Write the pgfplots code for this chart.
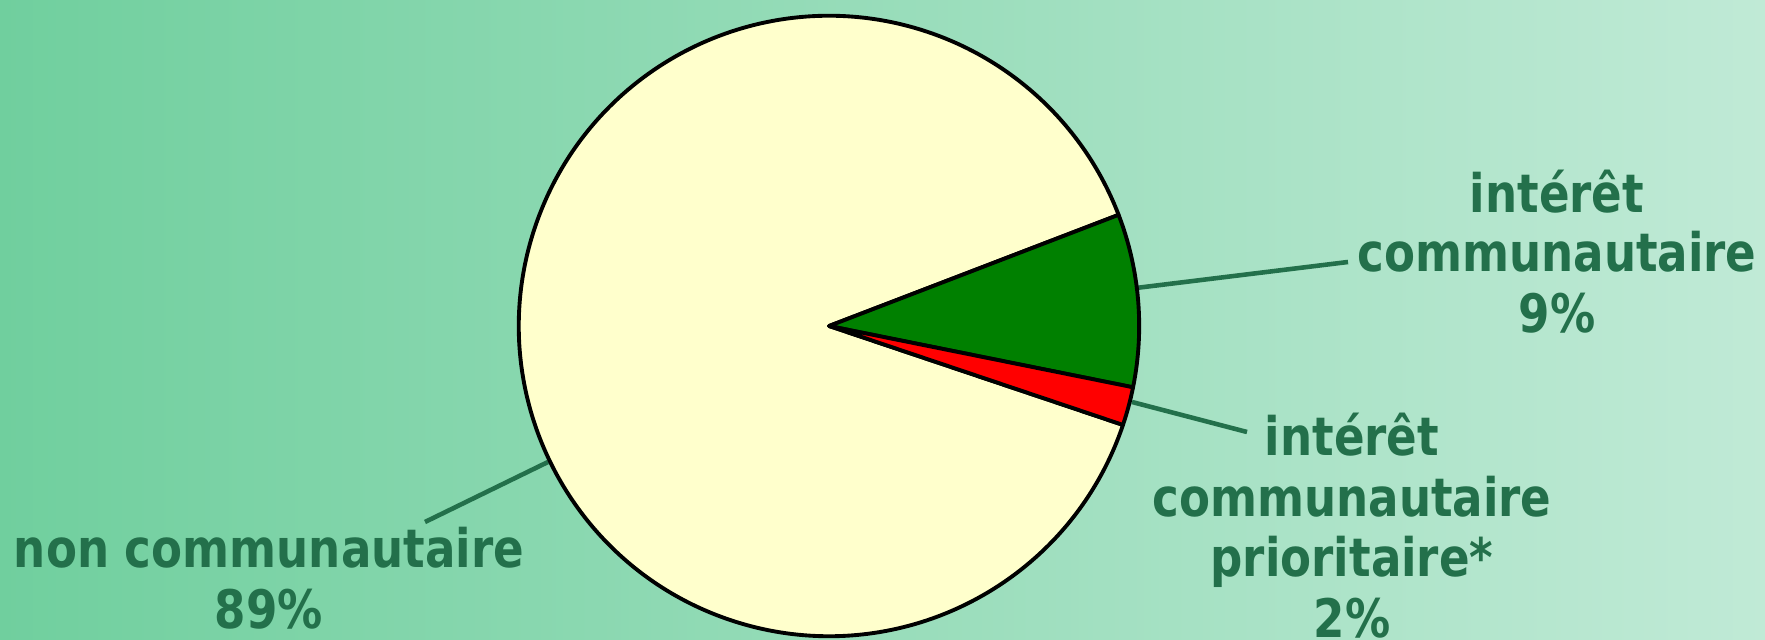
\documentclass[border=0pt]{standalone}
\usepackage{fontspec}
\setmainfont{DejaVu Sans}[BoldFeatures={FakeStretch=0.85}]
\usepackage{pgfplots}
\usepackage{pgfplotstable}
\pgfplotsset{compat=1.18}
\definecolor{bgL}{RGB}{112,207,158}
\definecolor{bgR}{RGB}{192,234,214}
\definecolor{txt}{RGB}{35,112,75}
\definecolor{pieyellow}{RGB}{255,255,204}
\definecolor{piegreen}{RGB}{0,128,0}
\definecolor{piered}{RGB}{255,0,0}
\pgfplotstableread{
label value
interet 9
prioritaire 2
non 89
}\piedata
\begin{document}
\begin{tikzpicture}
\pgfplotstablegetelem{0}{value}\of\piedata \let\va\pgfplotsretval
\pgfplotstablegetelem{1}{value}\of\piedata \let\vb\pgfplotsretval
\pgfplotstablegetelem{2}{value}\of\piedata \let\vc\pgfplotsretval
\pgfmathsetmacro\aA{21}
\pgfmathsetmacro\aB{\aA-3.6*\va}
\pgfmathsetmacro\aC{\aB-3.6*\vb}
\pgfmathsetmacro\aD{\aC-3.6*\vc}
\begin{axis}[
  x=0.01cm, y=0.01cm,
  xmin=0, xmax=1765, ymin=0, ymax=640,
  hide axis, clip=false,
  anchor=origin, at={(0,0)},
]
\coordinate (bl) at (axis cs:0,0);
\coordinate (tr) at (axis cs:1765,640);
\fill[left color=bgL, right color=bgR] (axis cs:0,0) rectangle (axis cs:1765,640);
% leader lines
\draw[txt, line width=1.3pt] (axis cs:1136,352) -- (axis cs:1348,378);
\draw[txt, line width=1.3pt] (axis cs:1132,238) -- (axis cs:1247,208);
\draw[txt, line width=1.3pt] (axis cs:548,178) -- (axis cs:425,118);
% pie slices
\filldraw[fill=pieyellow, draw=black, line width=1.1pt, line join=round]
  (axis cs:829,314) -- ++(\aC:3.1cm) arc[start angle=\aC, end angle=\aD, radius=3.1cm] -- cycle;
\filldraw[fill=piegreen, draw=black, line width=1.1pt, line join=round]
  (axis cs:829,314) -- ++(\aA:3.1cm) arc[start angle=\aA, end angle=\aB, radius=3.1cm] -- cycle;
\filldraw[fill=piered, draw=black, line width=1.1pt, line join=round]
  (axis cs:829,314) -- ++(\aB:3.1cm) arc[start angle=\aB, end angle=\aC, radius=3.1cm] -- cycle;
% labels
\tikzset{lab/.style={anchor=base, inner sep=0pt, text=txt, font=\fontsize{15.1pt}{17pt}\selectfont\bfseries}}
\node[lab] at (axis cs:1557,427) {intérêt};
\node[lab] at (axis cs:1557,368) {communautaire};
\node[lab] at (axis cs:1557,307) {9\%};
\node[lab] at (axis cs:1352,184) {intérêt};
\node[lab] at (axis cs:1352,123) {communautaire};
\node[lab] at (axis cs:1352,63) {prioritaire*};
\node[lab] at (axis cs:1352,2) {2\%};
\node[lab] at (axis cs:269,72) {non communautaire};
\node[lab] at (axis cs:269,11) {89\%};
\end{axis}
\pgfresetboundingbox
\useasboundingbox (bl) rectangle (tr);
\end{tikzpicture}
\end{document}
